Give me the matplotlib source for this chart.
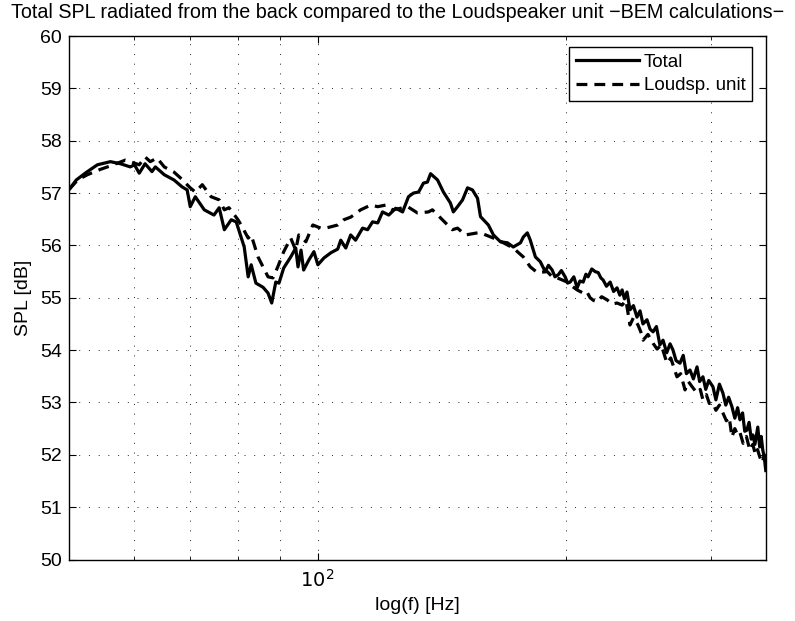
import matplotlib
matplotlib.use("Agg")
import matplotlib.pyplot as plt
from matplotlib.ticker import FixedLocator, NullFormatter, FixedFormatter

plt.rcParams['font.family'] = ['Liberation Sans', 'DejaVu Sans']

# values
freq_total = [50.0, 51.0, 52.5, 54.1, 56.1, 57.7, 59.3, 60.0, 60.8, 61.8, 63.0, 63.6,
              65.2, 67.0, 68.5, 69.5, 70.1, 71.1, 72.9, 74.9, 76.0, 77.1, 78.6, 79.7,
              81.5, 82.4, 83.1, 84.2, 85.9, 87.1, 88.0, 89.0, 89.8, 91.0, 92.8, 94.1,
              94.7, 95.5, 96.2, 97.6, 99.0, 100.1, 101.8, 103.8, 105.8, 106.7, 108.2,
              109.7, 111.2, 113.4, 115.0, 116.6, 118.3, 119.9, 122.0, 124.4, 126.8,
              128.9, 130.7, 132.6, 134.4, 135.9, 137.1, 139.8, 142.1, 144.9, 146.1,
              147.8, 149.9, 152.0, 154.1, 156.3, 157.6, 158.9, 161.1, 163.4, 166.6,
              169.9, 172.7, 176.2, 177.6, 179.6, 181.1, 183.7, 186.2, 188.8, 190.5,
              192.5, 194.0, 195.8, 197.5, 199.6, 201.0, 202.4, 204.5, 206.4, 208.0,
              209.9, 211.5, 212.8, 215.0, 217.0, 218.9, 220.5, 221.9, 224.0, 226.3,
              228.5, 230.7, 232.5, 234.0, 235.5, 237.2, 239.2, 241.5, 243.9, 246.0,
              248.0, 250.8, 253.0, 255.1, 257.5, 260.0, 262.3, 265.0, 267.5, 269.7,
              272.0, 275.0, 277.5, 280.0, 282.8, 285.5, 288.4, 290.5, 293.2, 295.5,
              298.0, 301.5, 304.0, 307.0, 310.0, 312.5, 315.0, 317.9, 320.5, 323.0,
              325.1, 327.5, 329.5, 331.4, 333.5, 335.5, 337.0, 339.0, 341.7, 343.5,
              345.0, 346.5, 348.0, 349.4]
spl_total = [57.07, 57.25, 57.40, 57.54, 57.60, 57.56, 57.50, 57.54, 57.38, 57.56, 57.41, 57.50,
             57.35, 57.25, 57.12, 57.06, 56.74, 56.93, 56.68, 56.58, 56.72, 56.30, 56.49, 56.45,
             55.97, 55.40, 55.63, 55.28, 55.20, 55.09, 54.90, 55.30, 55.28, 55.57, 55.78, 55.95,
             55.59, 55.91, 55.53, 55.72, 55.88, 55.63, 55.76, 55.86, 55.93, 56.10, 55.95,
             56.20, 56.10, 56.33, 56.30, 56.45, 56.43, 56.64, 56.58, 56.71, 56.64,
             56.93, 57.00, 57.02, 57.19, 57.21, 57.37, 57.25, 57.02, 56.81, 56.64,
             56.74, 56.87, 57.10, 57.06, 56.90, 56.55, 56.49, 56.39, 56.20, 56.07,
             56.05, 55.97, 56.05, 56.16, 56.24, 56.10, 55.78, 55.69, 55.50, 55.62,
             55.53, 55.40, 55.44, 55.52, 55.40, 55.28, 55.30, 55.40, 55.19, 55.32,
             55.30, 55.45, 55.40, 55.55, 55.50, 55.48, 55.38, 55.34, 55.22, 55.30,
             55.12, 55.19, 55.05, 55.15, 54.98, 55.11, 54.77, 54.85, 54.63, 54.75,
             54.50, 54.58, 54.40, 54.35, 54.45, 54.10, 54.19, 53.95, 54.12, 54.00,
             53.80, 53.75, 53.90, 53.55, 53.62, 53.45, 53.68, 53.40, 53.49, 53.25,
             53.42, 53.30, 53.05, 53.35, 53.18, 52.95, 53.10, 52.92, 52.70, 52.90,
             52.67, 52.80, 52.45, 52.47, 52.62, 52.30, 52.38, 52.20, 52.53, 52.15,
             52.35, 52.09, 51.95, 51.70]

freq_unit = [50.0, 51.2, 52.6, 54.5, 56.1, 58.5, 59.3, 60.8, 61.8, 62.7, 63.9, 65.2,
             67.0, 68.2, 70.1, 71.1, 72.5, 74.3, 76.0, 77.1, 78.1, 80.1, 80.8, 82.4,
             83.1, 84.7, 87.1, 88.3, 89.5, 91.0, 92.8, 94.1, 94.9, 96.8, 98.7, 100.9,
             102.3, 105.8, 107.6, 109.7, 112.8, 116.0, 118.3, 120.9, 123.3, 126.1,
             128.6, 132.2, 136.3, 137.8, 141.7, 145.7, 147.8, 151.1, 156.3, 157.6,
             163.4, 168.0, 172.7, 177.6, 181.1, 184.7, 189.9, 192.5, 195.2, 198.0,
             200.7, 203.5, 206.4, 209.9, 212.0, 214.0, 216.0, 218.3, 221.0, 224.4,
             227.5, 230.7, 234.0, 236.5, 239.2, 241.5, 244.6, 246.5, 248.1, 251.5,
             255.1, 258.0, 261.0, 265.2, 268.0, 272.7, 275.5, 278.9, 281.5, 284.5,
             288.4, 291.0, 293.2, 296.0, 298.5, 301.5, 304.0, 307.0, 310.0, 313.0,
             315.5, 317.9, 320.5, 323.0, 325.1, 328.0, 331.0, 334.2, 337.0, 339.5,
             341.5, 343.6, 346.0, 348.0, 349.4]
spl_unit = [57.07, 57.25, 57.35, 57.45, 57.52, 57.63, 57.60, 57.54, 57.69, 57.60, 57.67, 57.50,
            57.40, 57.29, 57.10, 57.02, 57.16, 56.93, 56.87, 56.68, 56.72, 56.49, 56.39, 56.14,
            56.20, 55.78, 55.40, 55.38, 55.59, 55.88, 56.14, 55.91, 56.20, 56.07, 56.39, 56.33,
            56.33, 56.39, 56.49, 56.54, 56.68, 56.77, 56.74, 56.77, 56.68, 56.71,
            56.74, 56.62, 56.64, 56.68, 56.49, 56.30, 56.33, 56.20, 56.24, 56.24,
            56.14, 56.05, 55.95, 55.78, 55.59, 55.48, 55.50, 55.40, 55.38, 55.34,
            55.30, 55.22, 55.15, 55.09, 55.12, 55.00, 54.95, 54.92, 55.02, 54.96,
            54.88, 54.90, 54.86, 54.95, 54.48, 54.62, 54.48, 54.35, 54.19, 54.30,
            54.13, 54.02, 54.10, 53.75, 53.85, 53.49, 53.55, 53.24, 53.40, 53.30,
            53.18, 53.25, 53.05, 53.15, 52.98, 52.99, 52.85, 52.95, 52.80, 52.65,
            52.72, 52.34, 52.50, 52.38, 52.43, 52.22, 52.35, 52.09, 52.20, 52.00,
            52.10, 51.96, 51.85, 52.00, 51.75]

x_major = [100]
x_minor = [60, 70, 80, 90, 200, 300]

fig = plt.figure(figsize=(7.95, 6.21), dpi=100)
ax = fig.add_axes([0.087, 0.099, 0.877, 0.843])

ax.plot(freq_total, spl_total, color='black', lw=2.3, label='Total')
ax.plot(freq_unit, spl_unit, color='black', lw=2.3, dashes=(3.4, 2.2), label='Loudsp. unit')

ax.set_xscale('log')
ax.set_xlim(50, 350)
ax.set_ylim(50, 60)
ax.set_yticks(range(50, 61))
ax.xaxis.set_major_locator(FixedLocator(x_major))
ax.xaxis.set_major_formatter(FixedFormatter([r'$10^2$']))
ax.xaxis.set_minor_locator(FixedLocator(x_minor))
ax.xaxis.set_minor_formatter(NullFormatter())

ax.grid(True, which='both', linestyle=(0, (1, 9)), color='#222222', lw=0.7)
ax.tick_params(which='both', direction='in', top=True, right=True, labelsize=14)
ax.tick_params(which='major', length=5)
ax.tick_params(which='minor', length=3)
ax.tick_params(axis='y', pad=5)
ax.tick_params(axis='x', pad=7)
for s in ax.spines.values():
    s.set_linewidth(1.0)

ax.set_xlabel('log(f) [Hz]', fontsize=14, labelpad=4)
ax.set_ylabel('SPL [dB]', fontsize=14, labelpad=6)
fig.text(0.5, 0.98, 'Total SPL radiated from the back compared to the Loudspeaker unit \u2212BEM calculations\u2212',
         fontsize=14.2, ha='center', va='center')

leg = ax.legend(loc='upper right', bbox_to_anchor=(0.98, 0.979), borderaxespad=0,
                fontsize=13.5, handlelength=3.4, fancybox=False,
                framealpha=1, edgecolor='black',
                handletextpad=0.25, borderpad=0.35, labelspacing=0.35)
leg.get_frame().set_linewidth(1.0)

fig.savefig('out.png', dpi=100)
